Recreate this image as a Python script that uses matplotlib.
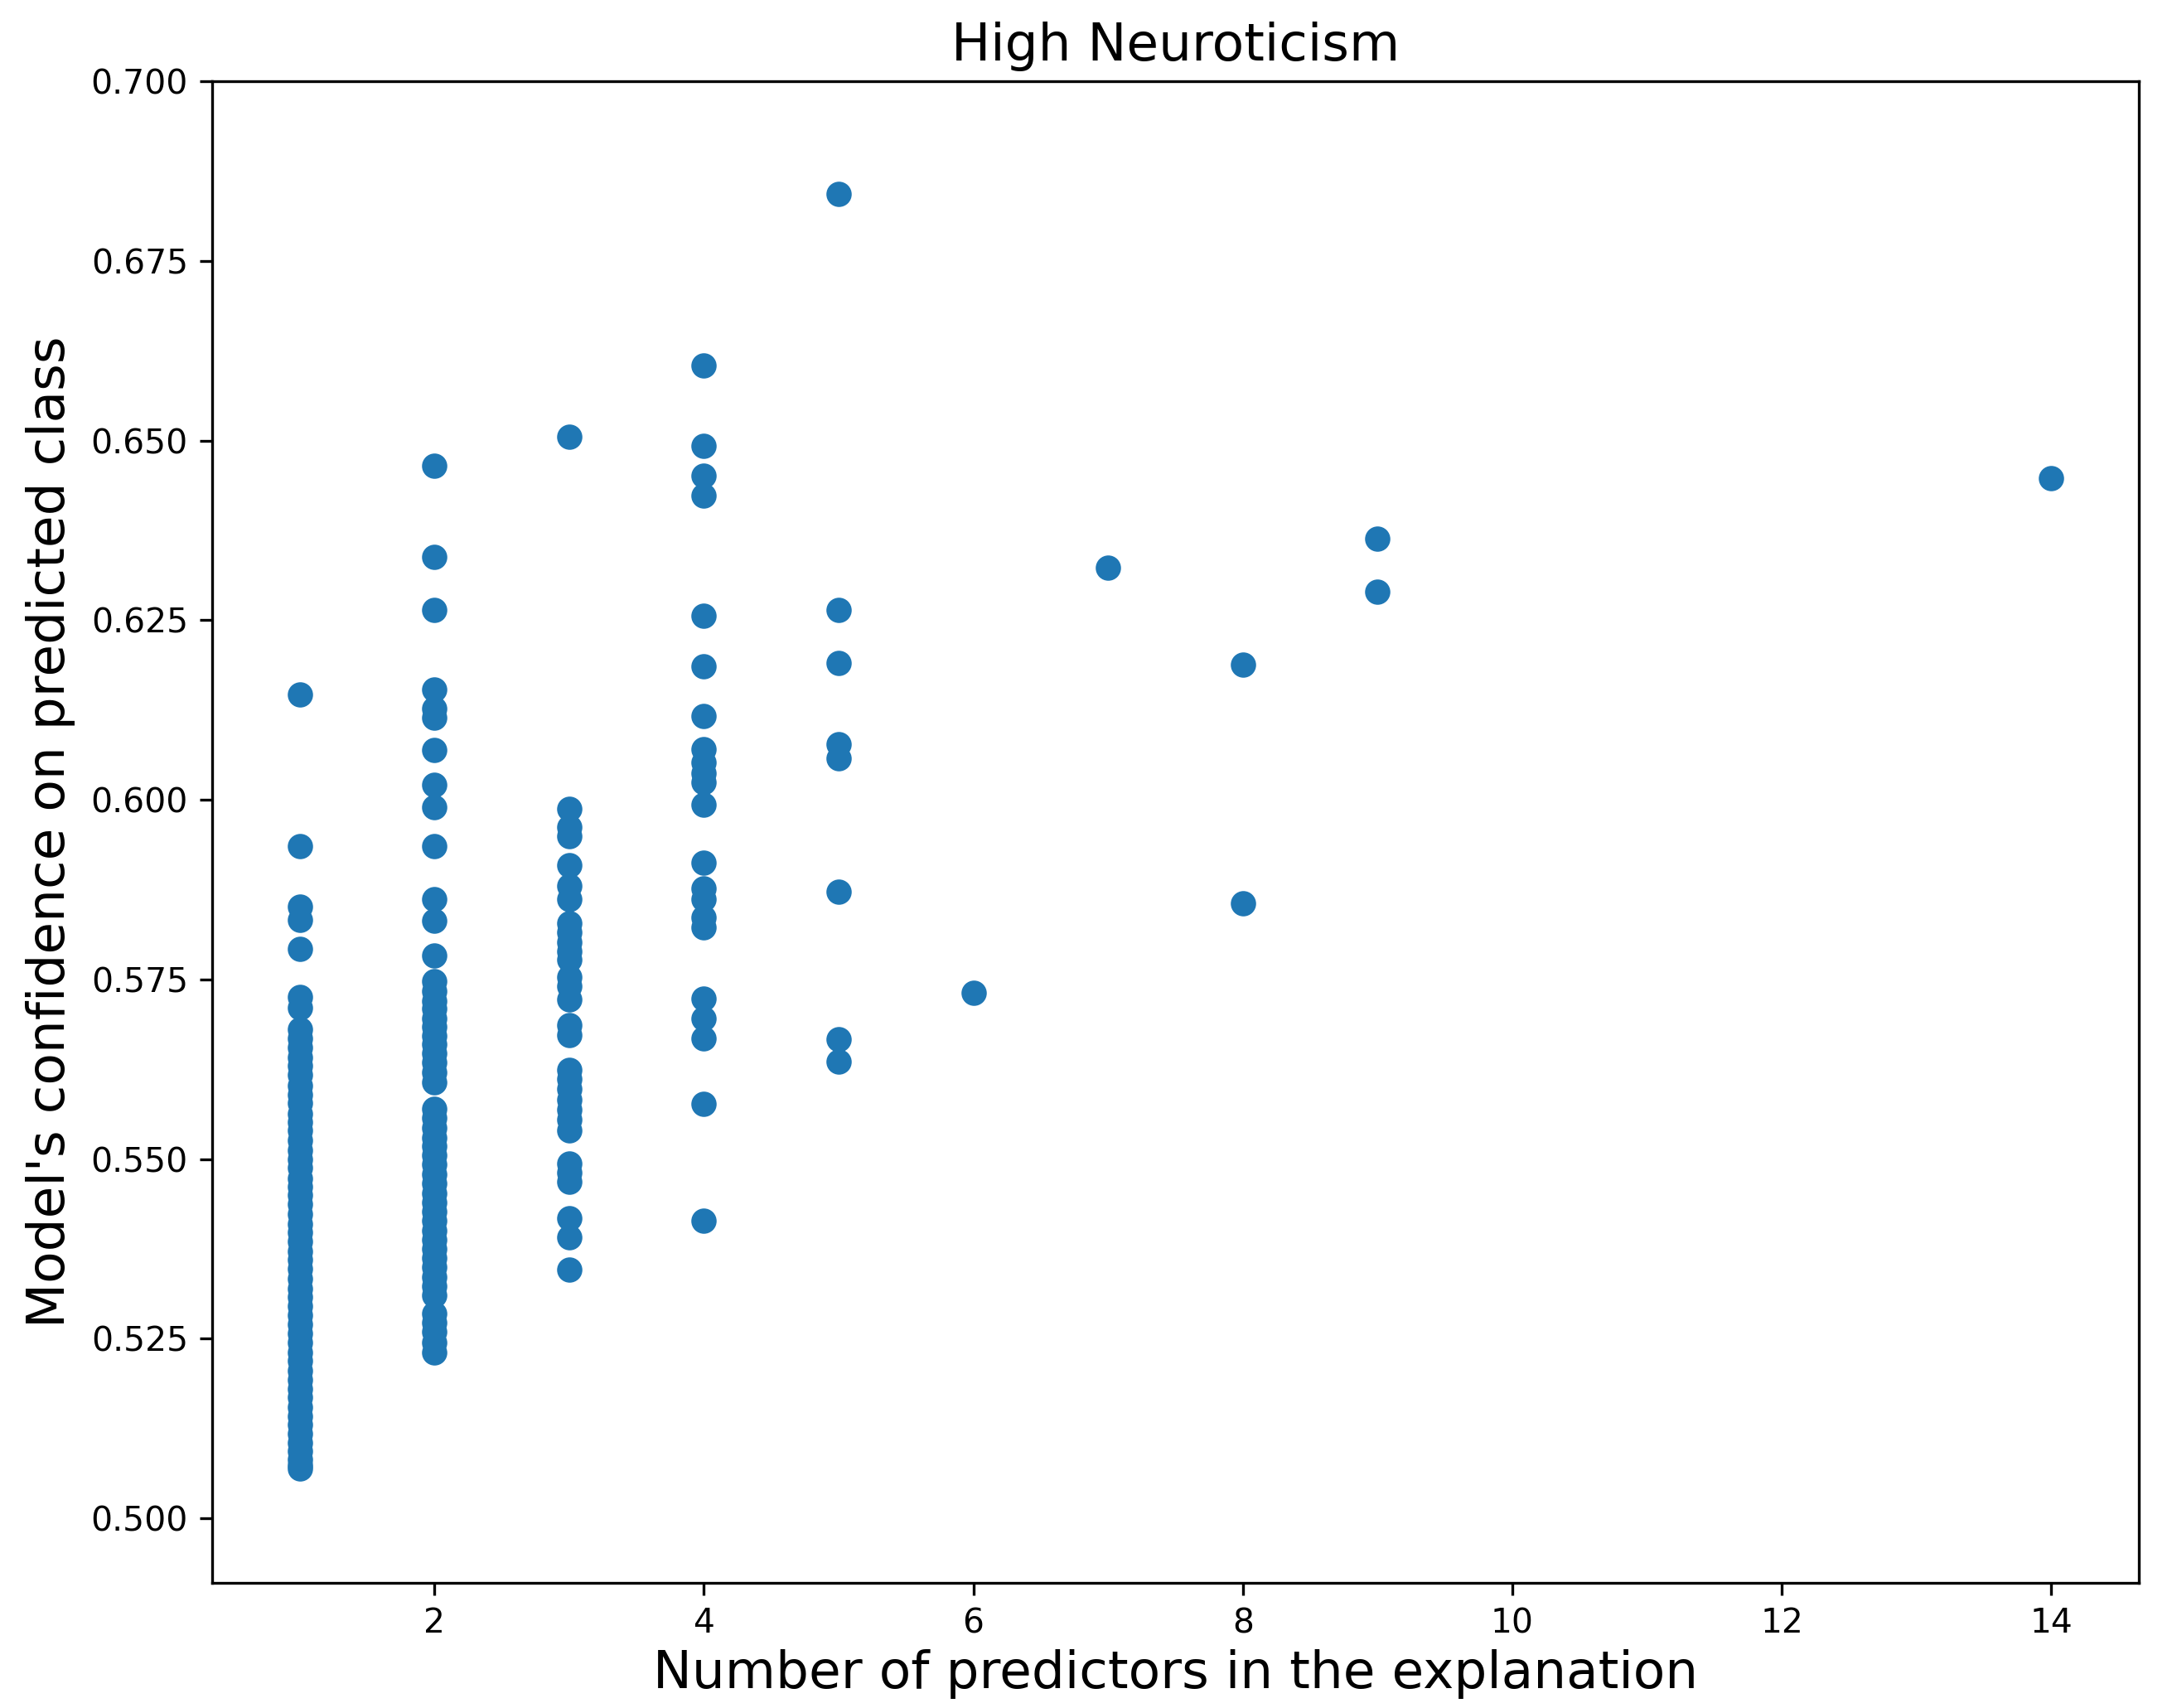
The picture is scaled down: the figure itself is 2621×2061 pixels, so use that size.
import numpy as np
import matplotlib
matplotlib.use('Agg')
import matplotlib.pyplot as plt

# confidence values per explanation length
conf_1 = [0.6147, 0.5935, 0.5851, 0.5833, 0.5792, 0.5725, 0.5710,
          0.5680, 0.5668, 0.5655, 0.5641, 0.5630, 0.5617, 0.5602, 0.5590,
          0.5578, 0.5563, 0.5551, 0.5540, 0.5526, 0.5512, 0.5500, 0.5488,
          0.5473, 0.5461, 0.5450, 0.5437, 0.5423, 0.5410, 0.5398, 0.5385,
          0.5371, 0.5360, 0.5347, 0.5333, 0.5320, 0.5308, 0.5295, 0.5282,
          0.5270, 0.5257, 0.5244, 0.5231, 0.5219, 0.5205, 0.5193, 0.5180,
          0.5168, 0.5155, 0.5142, 0.5130, 0.5118, 0.5105, 0.5093, 0.5082,
          0.5074, 0.5069]
conf_2 = [0.6465, 0.6338, 0.6264, 0.6153, 0.6127, 0.6114, 0.6069, 0.6021,
          0.5990, 0.5935, 0.5862, 0.5832, 0.5783,
          0.5747, 0.5734, 0.5720, 0.5709, 0.5696, 0.5684, 0.5671, 0.5660,
          0.5647, 0.5634, 0.5621, 0.5607,
          0.5570, 0.5557, 0.5543, 0.5530, 0.5518, 0.5505, 0.5492, 0.5479,
          0.5466, 0.5452, 0.5440, 0.5427, 0.5414, 0.5400, 0.5388, 0.5375,
          0.5362, 0.5349, 0.5336, 0.5323, 0.5310, 0.5285, 0.5272, 0.5259,
          0.5245, 0.5231]
conf_3 = [0.6505, 0.5988, 0.5962, 0.5949, 0.5909, 0.5880, 0.5862, 0.5828,
          0.5815, 0.5802, 0.5789, 0.5777, 0.5753, 0.5740, 0.5722, 0.5686,
          0.5672, 0.5624, 0.5611, 0.5597, 0.5583, 0.5569, 0.5555, 0.5540,
          0.5494, 0.5481, 0.5468, 0.5418, 0.5391, 0.5346]
conf_4 = [0.6605, 0.6493, 0.6451, 0.6423, 0.6256, 0.6186, 0.6117, 0.6070,
          0.6052, 0.6037, 0.6024, 0.5993, 0.5913, 0.5877, 0.5862, 0.5836,
          0.5823, 0.5723, 0.5696, 0.5668, 0.5577, 0.5414]
conf_5 = [0.6844, 0.6264, 0.6190, 0.6078, 0.6058, 0.5872, 0.5667, 0.5636]
conf_6 = [0.5731]
conf_7 = [0.6323]
conf_8 = [0.6188, 0.5856]
conf_9 = [0.6363, 0.6290]
conf_14 = [0.6448]

groups = {1: conf_1, 2: conf_2, 3: conf_3, 4: conf_4, 5: conf_5,
          6: conf_6, 7: conf_7, 8: conf_8, 9: conf_9, 14: conf_14}

n_predictors = []
confidence = []
for k, vals in groups.items():
  n_predictors += [k] * len(vals)
  confidence += vals

fig = plt.figure(figsize=(2621 / 300, 2061 / 300), dpi=300)
ax = fig.add_axes([0.0977, 0.0733, 0.8870, 0.8790])
ax.scatter(n_predictors, confidence, s=40, color='#1f77b4')

ax.set_ylim(0.491, 0.700)
ax.set_yticks(np.arange(0.500, 0.7001, 0.025))
ax.set_xticks([2, 4, 6, 8, 10, 12, 14])
ax.tick_params(labelsize=9.8)
ax.set_title('High Neuroticism', fontsize=15.1)
ax.set_xlabel('Number of predictors in the explanation', fontsize=15.1, labelpad=2.5)
ax.set_ylabel("Model's confidence on predicted class", fontsize=15.1, labelpad=4.5)

fig.savefig('out.png', dpi=300)
